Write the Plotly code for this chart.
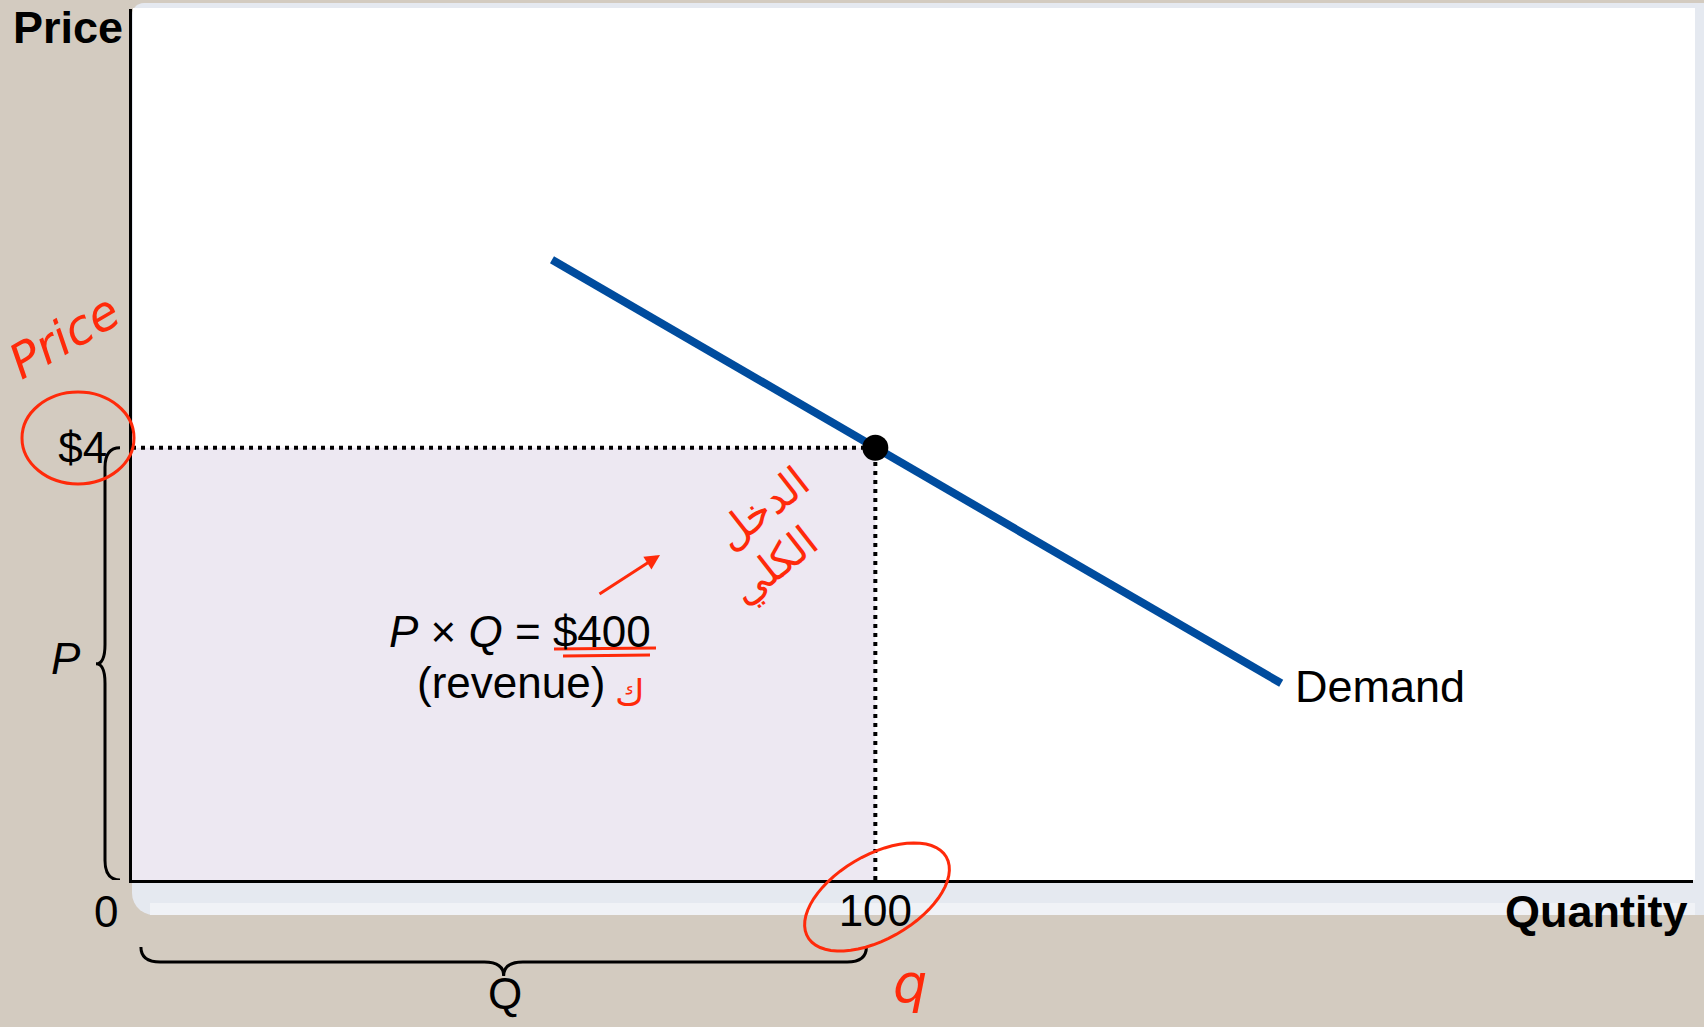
import numpy as np
import plotly.graph_objects as go

# dados do gráfico
demand_q = [56.5, 154.6]
demand_p = [5.74, 1.82]
eq_q = [100]
eq_p = [4]
x_ticks = [100]
x_labels = ["100"]
y_ticks = [4]
y_labels = ["$4"]

W, H = 1704, 1027
L, R, T, B = 132, 1693, 9, 880   # área do gráfico em pixels
BEGE = "#d3cbc0"
VERMELHO = "#ff2a0a"
FONTE = "Liberation Sans, Arial, sans-serif"


def px(x):
    return (x - L) / (R - L)


def py(y):
    return (B - y) / (B - T)


def caminho(pontos):
    return "M " + " L ".join(f"{px(a):.5f},{py(b):.5f}" for a, b in pontos) + " Z"


def ret_arredondado(x0, y0, x1, y1, r_sup, r_inf):
    pts = []
    for t in np.linspace(np.pi, 1.5 * np.pi, 8):
        pts.append((x0 + r_sup + r_sup * np.cos(t), y0 + r_sup + r_sup * np.sin(t)))
    pts += [(x1, y0), (x1, y1)]
    for t in np.linspace(0.5 * np.pi, np.pi, 8):
        pts.append((x0 + r_inf + r_inf * np.cos(t), y1 - r_inf + r_inf * np.sin(t)))
    return caminho(pts)


fig = go.Figure()

# área da receita (P x Q)
fig.add_trace(go.Scatter(
    x=[0, 0, eq_q[0], eq_q[0]], y=[0, eq_p[0], eq_p[0], 0],
    fill="toself", fillcolor="#ede8f2", mode="none", hoverinfo="skip"))

# linhas pontilhadas
fig.add_trace(go.Scatter(x=[0, eq_q[0]], y=[eq_p[0], eq_p[0]], mode="lines",
                         line=dict(color="black", width=4, dash="4px,5px")))
fig.add_trace(go.Scatter(x=[eq_q[0], eq_q[0]], y=[0, eq_p[0]], mode="lines",
                         line=dict(color="black", width=4, dash="4px,5px")))

# curva de demanda
fig.add_trace(go.Scatter(x=demand_q, y=demand_p, mode="lines",
                         line=dict(color="#004c9e", width=8)))

# ponto de equilíbrio
fig.add_trace(go.Scatter(x=eq_q, y=eq_p, mode="markers",
                         marker=dict(color="black", size=26)))

shapes = [
    # painel claro atrás do gráfico
    dict(type="path", xref="paper", yref="paper", layer="below",
         path=ret_arredondado(132, 3, 1704, 915, 12, 22),
         fillcolor="#e5e9f0", line=dict(width=0)),
    dict(type="rect", xref="paper", yref="paper", layer="below",
         x0=px(150), x1=px(1695), y0=py(903), y1=py(915),
         fillcolor="#f0f2f6", line=dict(width=0)),
    dict(type="rect", xref="paper", yref="paper", layer="below",
         x0=px(133), x1=px(1695), y0=py(880), y1=py(8),
         fillcolor="white", line=dict(width=0)),
]

# chave do P (vertical, à esquerda)
xb, xe, xt = px(105), px(120), px(96)
r = 0.18
p_top, p_mid = eq_p[0], eq_p[0] / 2
shapes.append(dict(
    type="path", xref="paper", yref="y", line=dict(color="black", width=3),
    path=(f"M {xe},{p_top} Q {xb},{p_top} {xb},{p_top - r} "
          f"L {xb},{p_mid + r} Q {xb},{p_mid} {xt},{p_mid} "
          f"Q {xb},{p_mid} {xb},{p_mid - r} L {xb},{r} Q {xb},0 {xe},0")))

# chave do Q (horizontal, embaixo)
yb, ye, yt = py(962), py(947), py(976)
rq = 2.6
q0, q1 = 1.2, eq_q[0] - 1.2
qm = eq_q[0] / 2
shapes.append(dict(
    type="path", xref="x", yref="paper", line=dict(color="black", width=3),
    path=(f"M {q0},{ye} Q {q0},{yb} {q0 + rq},{yb} L {qm - rq},{yb} "
          f"Q {qm},{yb} {qm},{yt} Q {qm},{yb} {qm + rq},{yb} "
          f"L {q1 - rq},{yb} Q {q1},{yb} {q1},{ye}")))

# anotações à mão (vermelho)
shapes.append(dict(type="circle", xref="paper", yref="paper",
                   x0=px(22), x1=px(134), y0=py(392), y1=py(484),
                   line=dict(color=VERMELHO, width=3)))
t = np.linspace(0, 2 * np.pi, 60)
ang = np.radians(30)
ex, ey = 80 * np.cos(t), 42 * np.sin(t)
shapes.append(dict(type="path", xref="paper", yref="paper",
                   line=dict(color=VERMELHO, width=3),
                   path=caminho(list(zip(877 + ex * np.cos(ang) + ey * np.sin(ang),
                                         897 - ex * np.sin(ang) + ey * np.cos(ang))))))
shapes.append(dict(type="line", xref="paper", yref="paper",
                   x0=px(554), x1=px(656), y0=py(649), y1=py(648),
                   line=dict(color=VERMELHO, width=3)))
shapes.append(dict(type="line", xref="paper", yref="paper",
                   x0=px(563), x1=px(650), y0=py(656), y1=py(655),
                   line=dict(color=VERMELHO, width=3)))


def texto(x, y, s, size=44, cor="black", xanchor="center", ang=0, fam=FONTE):
    return dict(xref="paper", yref="paper", x=px(x), y=py(y), text=s,
                showarrow=False, xanchor=xanchor, yanchor="middle", textangle=ang,
                font=dict(family=fam, size=size, color=cor))


annotations = [
    texto(11, 27, "<b>Price</b>", 45, xanchor="left"),
    texto(1690, 911, "<b>Quantity</b>", 45, xanchor="right"),
    texto(106, 911, "0"),
    texto(66, 659, "<i>P</i>"),
    texto(505, 994, "Q"),
    dict(x=demand_q[-1] + 1.6, y=demand_p[-1] - 0.03, text="Demand", showarrow=False,
         xanchor="left", yanchor="middle", font=dict(family=FONTE, size=45, color="black")),
    texto(520, 631, "<i>P</i> × <i>Q</i> = $400"),
    texto(511, 682, "(revenue)"),
    # vermelho
    texto(64, 336, "<i>Price</i>", 48, VERMELHO, ang=-30, fam="DejaVu Sans"),
    texto(762, 508, "الدخل", 42, VERMELHO, ang=-38, fam="DejaVu Sans"),
    texto(774, 566, "الكلي", 42, VERMELHO, ang=-38, fam="DejaVu Sans"),
    texto(630, 692, "ك", 36, VERMELHO, fam="DejaVu Sans"),
    texto(910, 983, "<i>q</i>", 54, VERMELHO, fam="DejaVu Sans"),
    dict(xref="paper", yref="paper", x=px(660), y=py(555), ax=-62, ay=40, text="",
         showarrow=True, arrowhead=2, arrowsize=1, arrowwidth=3, arrowcolor=VERMELHO),
]

fig.update_layout(
    width=W, height=H, autosize=False,
    margin=dict(l=L, r=W - R, t=T, b=H - B),
    paper_bgcolor=BEGE, plot_bgcolor="rgba(0,0,0,0)",
    showlegend=False,
    font=dict(family=FONTE, size=44, color="black"),
    shapes=shapes, annotations=annotations,
    xaxis=dict(range=[0, 210], showgrid=False, zeroline=False, showline=True,
               linecolor="black", linewidth=3, tickvals=x_ticks, ticktext=x_labels,
               ticks="", ticklabelstandoff=-10, tickfont=dict(size=44)),
    yaxis=dict(range=[0, 8.06], showgrid=False, zeroline=False, showline=True,
               linecolor="black", linewidth=3, tickvals=y_ticks, ticktext=y_labels,
               ticks="", ticklabelstandoff=13, tickfont=dict(size=44)),
)

# tira a margem padrão do <body> para a figura ocupar a janela toda
fig.write_html("out.html", config={"displayModeBar": False},
               post_script="document.body.style.margin='0';")
